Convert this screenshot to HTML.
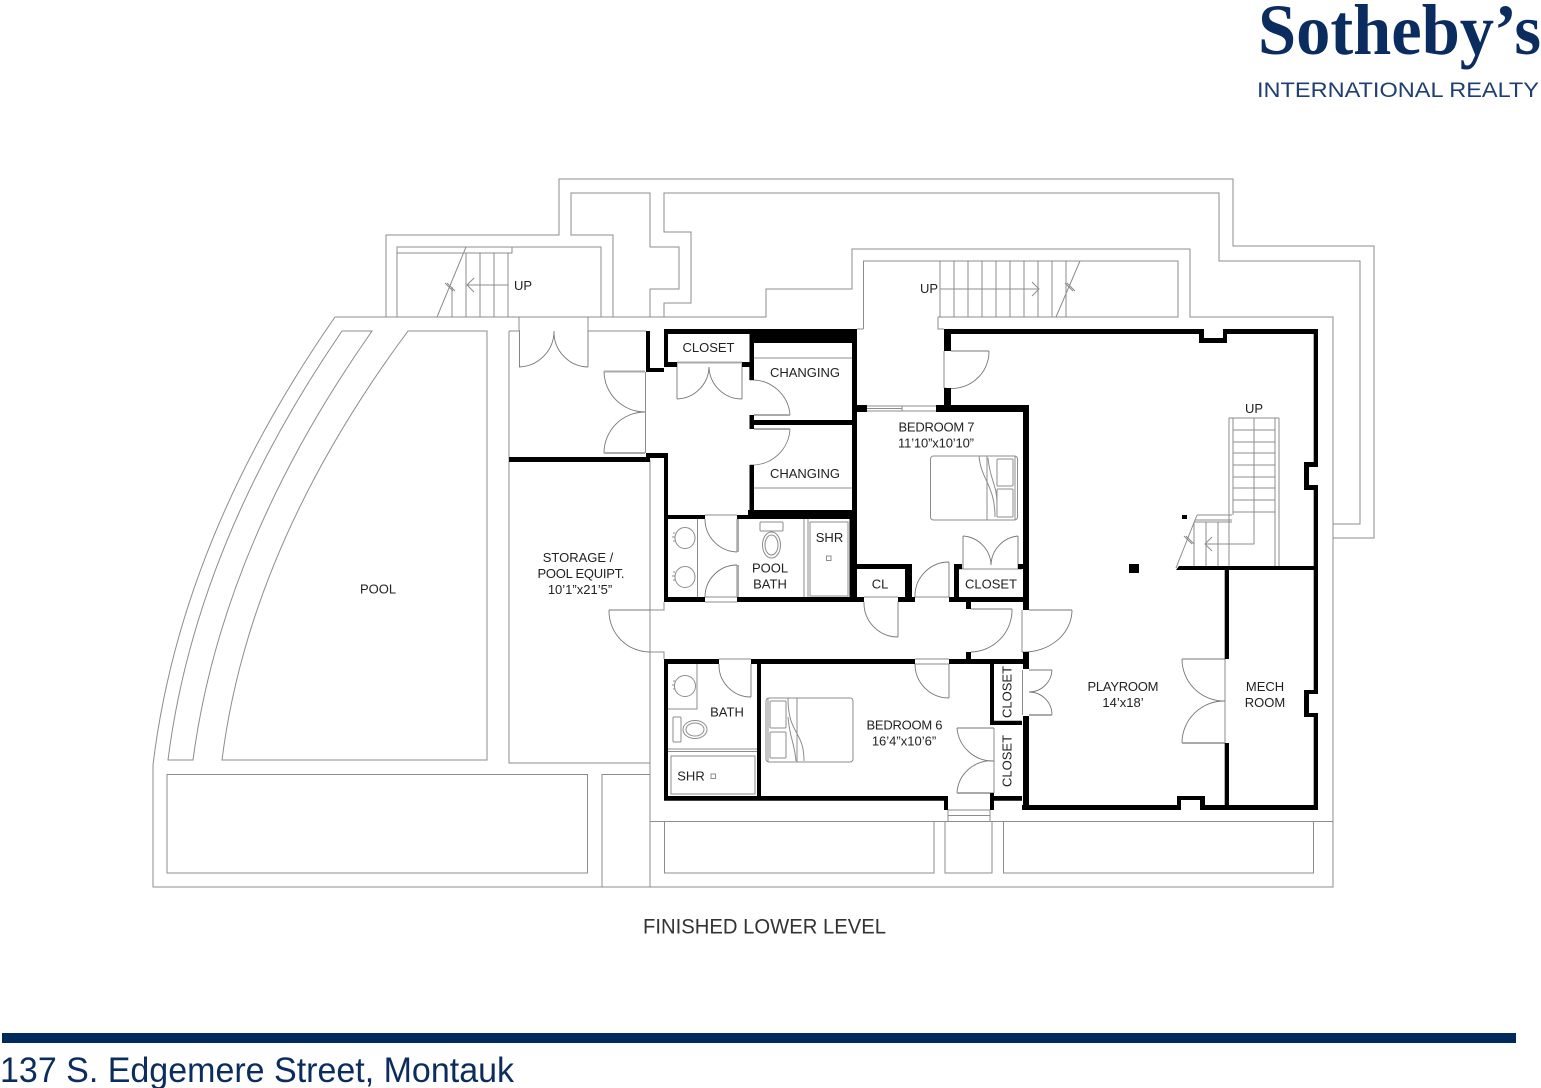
<!DOCTYPE html>
<html><head><meta charset="utf-8"><title>Finished Lower Level</title>
<style>html,body{margin:0;padding:0;background:#fff}svg{display:block}
text{font-family:"Liberation Sans",sans-serif;font-size:13px;fill:#222;text-anchor:middle}
.t{fill:none;stroke:#8c8c8c;stroke-width:1}
.g{fill:none;stroke:#aaa;stroke-width:2}
.d{fill:none;stroke:#777;stroke-width:.9}
</style></head><body>
<svg width="1541" height="1088" viewBox="0 0 1541 1088" xmlns="http://www.w3.org/2000/svg">
<rect width="1541" height="1088" fill="#fff"/>
<!-- logo -->
<text x="1258" y="54" textLength="283" lengthAdjust="spacingAndGlyphs" style="font-family:'Liberation Serif',serif;font-weight:bold;font-size:72px;fill:#0b2c5f;text-anchor:start">Sotheby’s</text>
<text x="1257" y="97" textLength="282" lengthAdjust="spacingAndGlyphs" style="font-size:21px;fill:#1f3f70;text-anchor:start">INTERNATIONAL REALTY</text>

<!-- thin outlines -->
<g class="t">
<path d="M335 317Q180 540 153 765V887H1333V317H1190V249H852V289H766V317H335"/>
<path d="M386 317V235H559V179H1233V246H1374V538H1333"/>
<path d="M664 317V303H691V232H664V193H1219V261H1360V524H1333"/>
<path d="M613 317V235H571V193H650V247H679V289H650V317"/>
<rect x="397" y="247" width="204" height="70"/>
<path d="M397 253H512V247"/>
<path d="M466 253V317M480 253V317M494 253V317M508 253V317M452 287V317"/>
<path d="M466 247L437 317M445 283L453 291M447 283L455 291"/>
<path d="M508 285H467M474 278L467 285L474 292"/>
<path d="M342 331H372Q221.500 545.500 193 760H168Q195 545.500 342 331Z"/>
<path d="M408 331H487V760H222Q249 545.500 408 331Z"/>
<path d="M509 331H520M588 331H646M509 331V763H650M650 460V887"/>
<path d="M519 317V331M588 317V331"/>
<path d="M645.500 372V453"/>
<path d="M863.500 329V261H1178V317H938V329H944M857 329H863.500"/>
<path d="M940 261V317M954 261V317M968 261V317M982 261V317M996 261V317M1010 261V317M1024 261V317M1038 261V317M1052 261V317M1066 261V317"/>
<path d="M940 289H1039M1032 282L1039 289L1032 296"/>
<path d="M1080 261L1056 317M1065 283L1073 291M1067 283L1075 291"/>
<path d="M754 358H852M754 488H852"/>
<path d="M650 610H664V602M650 652H664V659"/>
<path d="M650 821.500H1333"/>
<rect x="664.500" y="821.500" width="269.500" height="51.500"/>
<rect x="945" y="821.500" width="47" height="51.500"/>
<rect x="1003.500" y="821.500" width="310" height="51.500"/>
<rect x="167" y="774.500" width="420.500" height="98.500"/>
<path d="M602 887V774.500H650"/>
<path d="M948 810H990M948 815.500H990M948 810V821M990 810V821"/>
<!-- door opening jambs -->
<path d="M705 515H737M705 597H737M705 602H737M864 597H898M915 597H949M719 659H751M915 659H949M915 664H949"/>
<!-- pool bath -->
<path d="M697.500 519V597M804 519V597M808 519V597"/>
<rect x="810" y="522" width="38" height="74"/>
<rect x="826.500" y="556" width="4.500" height="4.500"/>
<ellipse cx="685" cy="538" rx="10" ry="10.500"/><ellipse cx="685" cy="577" rx="10" ry="10.500"/>
<path d="M675 533h-2M675 537h-3M675 541h-2M675 572h-2M675 576h-3M675 580h-2"/>
<rect x="760" y="522" width="23" height="9" rx="1"/>
<ellipse cx="771.500" cy="545" rx="9" ry="13"/><ellipse cx="771.500" cy="545" rx="6.500" ry="10"/>
<!-- bath 6 -->
<path d="M668 709H697V664M668 749H757M668 751.500H757"/>
<circle cx="685" cy="686" r="10.500"/>
<path d="M675 681h-2M675 685h-3M675 689h-2"/>
<rect x="671" y="756" width="84" height="38"/>
<rect x="711" y="774" width="4.500" height="4.500"/>
<rect x="673" y="717" width="8" height="25" rx="1"/>
<ellipse cx="695" cy="729.500" rx="12" ry="9"/><ellipse cx="695" cy="729.500" rx="9" ry="6.500"/>
<!-- beds -->
<rect x="930.500" y="456" width="87" height="64" rx="3"/>
<path d="M987 456V520M1015 456V520"/>
<rect x="997" y="459" width="16" height="27" rx="1"/><rect x="997" y="489" width="16" height="28" rx="1"/>
<path d="M979 456C981 480 995 485 995 517M988 458C990 480 997 485 997 503"/>
<rect x="766" y="698" width="87" height="64" rx="3"/>
<path d="M797 698V762M768 698V762"/>
<rect x="770" y="701" width="16" height="27" rx="1"/><rect x="770" y="732" width="16" height="26" rx="1"/>
<path d="M788 698C788 735 804 730 804 761M788 717C790 740 794 740 796 761"/>
<!-- interior stair -->
<path d="M1229 418H1279M1229 418V522M1233 418V515M1275 418V566M1279 418V566"/>
<path d="M1233 430H1275M1233 442H1275M1233 453H1275M1233 465H1275M1233 477H1275M1233 488H1275M1233 500H1275M1233 512H1275"/>
<path d="M1254 418V544H1205M1212 537L1205 544L1212 551"/>
<path d="M1197 515H1232M1195 520H1232M1194 522H1232M1194 522V566M1206 522V566M1218 522V566M1229 522V566"/>
<path d="M1197 515L1176 568M1184 536L1192 544M1186 536L1194 544"/>
<path d="M867 406H936M867 411H936M867 408.500H902M902 406V411"/>
<path d="M1022 610V652M1022.500 670V715M994 728V793M1225 659V743M944 351V388"/>
<path d="M959 569H1022"/>
</g>
<!-- door leaves -->
<g class="d">
<path d="M519 367A36 36 0 0 0 554 331M588 367A35 35 0 0 1 554 331M519.500 331V367M588 331V367"/>
<path d="M604 371A41 41 0 0 0 645 412M604 453A41 41 0 0 1 645 412"/>
<path d="M677 399A33 33 0 0 0 709 367M742 399A33 33 0 0 1 709 367M677 362V399M742 362V399"/>
<path d="M750 380A38 38 0 0 1 790 415M790 429A38 38 0 0 1 750 465"/>
<path d="M705 519A33 33 0 0 0 737 552M737 565A32 32 0 0 0 705 597M737 519V552M737 565V597"/>
<path d="M864 602A34 34 0 0 0 898 637M898 602V637"/>
<path d="M949 562A34 34 0 0 0 915 597M949 562V597"/>
<path d="M963 536A30 30 0 0 1 991 565M1018 536A30 30 0 0 0 991 565M963 536V569M1018 536V569"/>
<path d="M1012 609A42 42 0 0 1 971 652M971 609H1012"/>
<path d="M1072 610A48 42 0 0 1 1022 652M1029 610H1072"/>
<path d="M609 610A41 41 0 0 0 650 652M609 610H650"/>
<path d="M719 664A32 32 0 0 0 751 697M751 664V697"/>
<path d="M915 664A34 34 0 0 0 949 698M949 664V698"/>
<path d="M957 728A36 36 0 0 0 994 761M957 793A34 34 0 0 1 994 761M957 728H994M957 793H994"/>
<path d="M1052 670A23 23 0 0 1 1029 692M1052 715A23 23 0 0 0 1029 692M1029 670H1052M1029 715H1052"/>
<path d="M1182 659A42 42 0 0 0 1225 701M1182 743A42 42 0 0 1 1225 701M1182 659H1225M1182 743H1225"/>
<path d="M989 351A38 37 0 0 1 944 388M951 351H989"/>
</g>
<g class="g">
<path d="M604 371.500H645M604 453H645M677 362.500H742M754 415H790M754 429H790M957 793H990M1182 743H1225M1029 715H1052"/>
<path d="M738 519V552M738 565V597M750 362V380"/>
</g>
<!-- walls -->
<path fill="#000" d="M509 457H650V462H509ZM646 453H668V458H646ZM646 331H650V372H646ZM646 368H664V372H646ZM664 329H668V367H664ZM664 362H677V367H664ZM742 362H754V367H742ZM664 329H857V334H664ZM750 329H857V343H750ZM749.500 334H754V380H749.500ZM749.500 415H754V429H749.500ZM754 420H852V425H754ZM749.500 465H754V519H749.500ZM664 453H668V602H664ZM668 515H705V519H668ZM737 515H857V519H737ZM748 510H857V519H748ZM852 329H857V602H852ZM849.500 515H857V600H849.500ZM664 597H705V602H664ZM737 597H864V602H737ZM898 597H915V602H898ZM857 564H912V569H857ZM905 564H912V602H905ZM949 597H1029V602H949ZM954 564H959V602H954ZM954 564H962V569H954ZM1018 564H1023V569H1018ZM857 405H867V412H857ZM936 405H1029V412H936ZM1023 405H1029V610H1023ZM1023 652H1029V669H1023ZM1023 716H1029V810H1023ZM944 329H951V351H944ZM944 388H951V405H944ZM944 329H1204V334H944ZM1199 329H1204V343H1199ZM1199 338H1227V343H1199ZM1223 329H1227V343H1223ZM1223 329H1318V334H1223ZM1313.700 329H1318V467H1313.700ZM1304 462H1318V467H1304ZM1304 462H1309V490H1304ZM1304 485H1318V490H1304ZM1313.700 485H1318V694H1313.700ZM1304 690H1318V694H1304ZM1304 690H1309V717H1304ZM1304 713H1318V717H1304ZM1313.700 713H1318V810H1313.700ZM1022 805H1181V810H1022ZM1177 796H1181V810H1177ZM1177 796H1205V800H1177ZM1200 796H1205V810H1200ZM1200 805H1318V810H1200ZM1224.700 569H1229V659H1224.700ZM1224.700 743H1229V810H1224.700ZM1179 566H1318V570H1176ZM966 602H971V609H966ZM966 652H971V664H966ZM664 659H719V664H664ZM751 659H915V664H751ZM949 659H1029V664H949ZM664 659H668V800H664ZM757 659H761V800H757ZM664 796H948V800.700H664ZM944 796H948V810H944ZM990 659H994V725H990ZM994 720.700H1022V725H994ZM990 793H994V810H990ZM994 796H1022V800.700H994ZM1182 515H1187V519H1182ZM1129 564H1139V573H1129Z"/>
<!-- labels -->
<text x="523" y="290">UP</text>
<text x="708.500" y="352">CLOSET</text>
<text x="805" y="377">CHANGING</text>
<text x="805" y="478">CHANGING</text>
<text x="936.500" y="431.500" textLength="76">BEDROOM 7</text>
<text x="936" y="447.500" textLength="76">11’10”x10’10”</text>
<text x="929" y="293">UP</text>
<text x="1254" y="413">UP</text>
<text x="1123" y="691" textLength="71">PLAYROOM</text>
<text x="1123" y="707">14’x18’</text>
<text x="1265" y="691">MECH</text>
<text x="1265" y="707">ROOM</text>
<text x="880" y="588.500">CL</text>
<text x="991" y="588.500">CLOSET</text>
<text x="829.500" y="542">SHR</text>
<text x="770" y="572.500">POOL</text>
<text x="770" y="588.500">BATH</text>
<text x="378" y="593.500">POOL</text>
<text x="578" y="562">STORAGE /</text>
<text x="581" y="578" textLength="87">POOL EQUIPT.</text>
<text x="580" y="594">10’1”x21’5”</text>
<text x="727" y="716.500">BATH</text>
<text x="691" y="780.500">SHR</text>
<text x="904.500" y="729.500" textLength="76">BEDROOM 6</text>
<text x="904" y="745.500">16’4”x10’6”</text>
<text transform="translate(1011.500 692) rotate(-90)">CLOSET</text>
<text transform="translate(1011.500 761) rotate(-90)">CLOSET</text>
<text x="764.500" y="933.500" textLength="243" lengthAdjust="spacingAndGlyphs" style="font-size:21px;fill:#333">FINISHED LOWER LEVEL</text>
<!-- footer -->
<rect x="2" y="1033" width="1514" height="10" fill="#002a5c"/>
<text x="0" y="1082" textLength="514" lengthAdjust="spacingAndGlyphs" style="font-size:35px;fill:#0b2c5f;text-anchor:start">137 S. Edgemere Street, Montauk</text>
</svg>
</body></html>
